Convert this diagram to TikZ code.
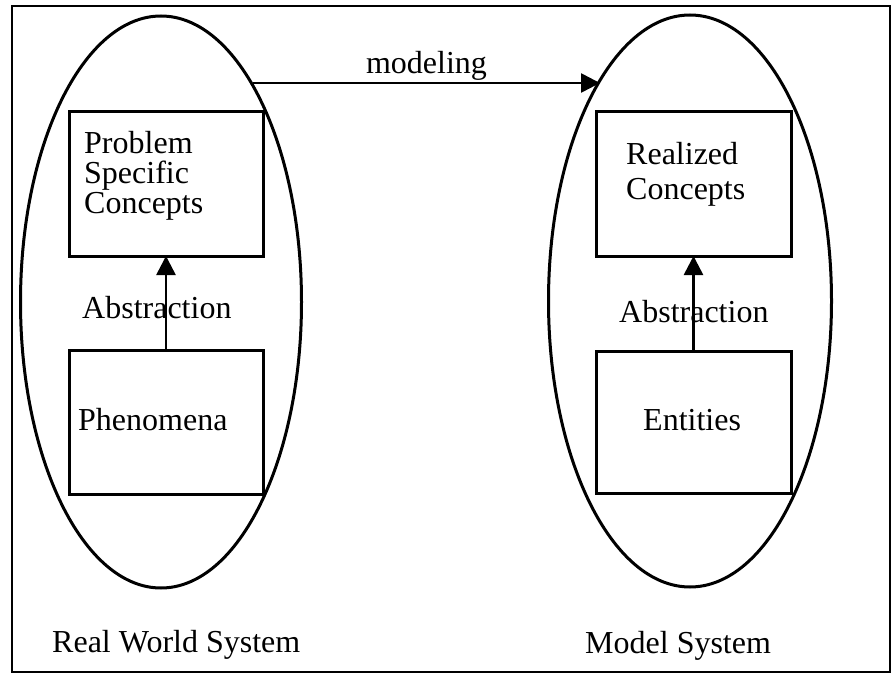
\documentclass[tikz,border=0pt]{standalone}
\usepackage{fontspec}
\setmainfont{Liberation Serif}
\usepackage{tikz}
\usetikzlibrary{
  	positioning,
  	arrows.meta,
  	shapes.geometric,
  	calc
  }
\tikzstyle{sys}=[ellipse,draw,line width=3pt,minimum width=281pt,minimum height=572pt,inner sep=0pt]
\tikzstyle{blk}=[rectangle,draw,line width=3pt,minimum width=194pt,minimum height=144pt,inner sep=0pt,outer sep=0pt]
\tikzstyle{lbl}=[font=\fontsize{32}{30}\selectfont,inner sep=0pt,anchor=base west,align=left]
\tikzstyle{arr}=[line width=2.6pt,-{Triangle[length=19pt,width=19pt]}]

\begin{document}
\begin{tikzpicture}[x=1pt,y=-1pt]
  \useasboundingbox (0,0) rectangle (892,674);
  \draw[line width=2pt] (12,6) rectangle (890,672);
  \node[sys] (rw) at (161,302) {};
  \node[sys,minimum width=283pt] (ms) at (690,301) {};
  \node[blk] (rwup) at (166,184) {};
  \node[blk,below=94pt of rwup] (rwlow) {};
  \node[blk,minimum width=195pt,right=333pt of rwup] (msup) {};
  \node[blk,minimum width=195pt,minimum height=142pt,below=95pt of msup] (mslow) {};
%
  \coordinate (mfrom) at ($(rw.center)+(92,-219)$);
  \coordinate (mto) at ($(ms.center)+(-90,-218)$);
  \draw[arr] (mfrom) -- node[midway,above,inner sep=1pt,font=\fontsize{32}{30}\selectfont] (mdl) {modeling} (mto);
  \draw[arr] (rwlow) -- (rwup);
  \draw[arr] (mslow) -- (msup);
%
  \node[lbl] (pscon) at (84,213) {Problem\\Specific\\Concepts};
  \node[lbl] (rlcon) at (626,200) {Realized\\[5pt]Concepts};
  \node[lbl] (abs1) at (82,318) {Abstraction};
  \node[lbl] (abs2) at (619,322) {Abstraction};
  \node[lbl] (phen) at (78,430) {Phenomena};
  \node[lbl] (ent) at (643,430) {Entities};
  \node[lbl] (rwname) at (52,652) {Real World System};
  \node[lbl] (msname) at (585,653) {Model System};
\end{tikzpicture}
\end{document}
